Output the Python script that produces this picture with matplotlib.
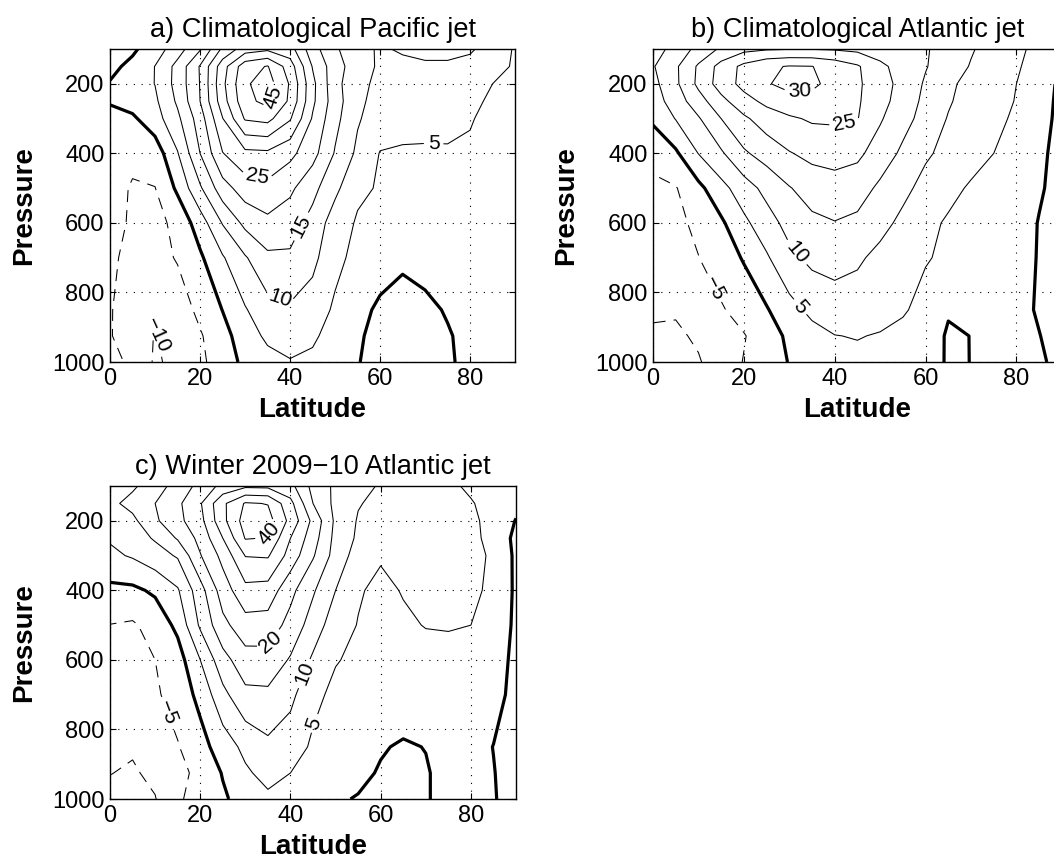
import numpy as np
import matplotlib
matplotlib.use("Agg")
import matplotlib.pyplot as plt

# grid of the wind fields
lat = [0, 5, 10, 15, 20, 25, 30, 35, 40, 45, 50, 55, 60, 65, 70, 75, 80, 85, 90]
plev = [100, 150, 200, 250, 300, 400, 500, 600, 700, 850, 925, 1000]

# zonal wind (m/s), one row per pressure level, one column per latitude
u_pacific = [
    [-2.0, -0.8, 2.6, 7.7, 14.5, 26.0, 32.5, 34.0, 32.0, 22.0, 15.8, 11.4, 9.5, 10.5, 11.5, 11.5, 10.6, 8.0, 4.5],
    [-1.2, 1.2, 5.1, 11.6, 20.4, 32.8, 43.0, 45.3, 37.5, 24.7, 17.2, 12.2, 9.3, 9.0, 9.2, 9.2, 8.6, 6.5, 4.5],
    [0.3, 2.5, 5.1, 11.8, 20.2, 33.8, 44.3, 47.3, 39.5, 26.3, 16.6, 11.4, 8.8, 8.0, 7.8, 7.8, 7.3, 5.0, 4.0],
    [0.4, 2.0, 4.1, 10.8, 20.0, 32.8, 43.5, 46.5, 39.0, 26.0, 17.3, 11.0, 8.3, 7.5, 7.0, 6.7, 6.0, 4.3, 3.3],
    [-1.5, -0.8, 2.9, 8.9, 17.5, 29.8, 40.5, 41.5, 35.5, 24.5, 16.5, 10.5, 7.5, 6.5, 6.0, 5.8, 5.2, 4.2, 3.0],
    [-2.5, -3.4, -2.8, 4.7, 15.0, 24.8, 28.7, 29.0, 26.3, 21.8, 14.6, 9.0, 4.8, 4.5, 4.6, 4.7, 4.6, 4.2, 3.5],
    [-2.5, -5.6, -5.1, 0.9, 9.3, 17.9, 22.5, 23.6, 21.0, 16.5, 11.2, 5.9, 4.6, 4.2, 4.1, 4.1, 4.3, 4.5, 4.5],
    [-3.5, -5.6, -6.6, -3.6, 2.5, 10.3, 16.3, 18.8, 17.3, 13.3, 7.5, 4.5, 3.5, 3.0, 3.2, 3.5, 3.5, 3.5, 3.5],
    [-4.2, -6.3, -6.8, -4.6, -0.8, 4.5, 9.5, 14.0, 14.2, 11.3, 6.4, 3.5, 1.8, 0.7, 1.3, 2.2, 2.8, 3.0, 3.0],
    [-4.6, -8.0, -9.6, -7.6, -3.8, 0.1, 4.6, 8.2, 9.3, 7.8, 4.2, 1.2, -0.7, -1.5, -0.8, 0.3, 1.5, 2.2, 2.5],
    [-4.7, -7.5, -10.2, -8.5, -5.5, -1.7, 2.5, 6.0, 7.6, 5.8, 3.0, 0.5, -1.2, -2.0, -1.2, -0.3, 1.0, 1.8, 2.2],
    [-3.5, -6.0, -10.6, -8.8, -6.0, -2.6, 1.2, 3.3, 4.6, 4.0, 2.3, 0.2, -1.5, -2.0, -1.5, -0.4, 0.8, 1.5, 2.0],
]

u_atlantic = [
    [2.5, 7.0, 11.4, 15.8, 18.6, 19.5, 19.8, 19.8, 19.5, 18.8, 17.8, 16.7, 15.4, 13.2, 10.4, 8.2, 6.0, 3.7, 1.0],
    [4.6, 9.2, 15.7, 21.8, 26.3, 29.2, 30.3, 30.1, 28.2, 25.6, 21.0, 18.2, 15.3, 12.3, 9.7, 7.6, 5.6, 2.8, -0.3],
    [3.5, 9.0, 16.1, 22.3, 26.5, 29.6, 31.5, 31.0, 28.3, 25.8, 22.1, 18.4, 14.4, 11.2, 8.1, 6.4, 5.0, 2.3, -1.0],
    [2.6, 7.4, 12.9, 18.5, 23.2, 26.2, 28.2, 28.3, 27.2, 25.6, 21.7, 17.8, 13.8, 10.5, 8.0, 6.5, 4.8, 2.0, -1.2],
    [0.8, 5.2, 9.5, 15.0, 19.1, 22.5, 24.3, 25.6, 25.8, 25.2, 20.5, 16.8, 13.1, 9.7, 7.9, 6.1, 4.3, 1.7, -1.3],
    [-3.5, -0.8, 5.1, 9.3, 14.3, 17.0, 19.7, 21.3, 21.6, 21.0, 17.8, 14.0, 10.7, 8.6, 6.9, 5.0, 3.5, 0.9, -1.5],
    [-6.0, -5.3, -1.3, 3.4, 7.7, 11.5, 14.7, 17.2, 18.3, 17.3, 14.0, 11.3, 8.4, 6.4, 4.4, 3.5, 2.5, 0.5, -1.6],
    [-7.0, -6.2, -3.9, -0.8, 3.9, 7.9, 11.7, 13.9, 14.8, 13.9, 11.6, 8.8, 6.3, 4.4, 3.8, 3.2, 2.1, -0.2, -1.5],
    [-7.5, -7.0, -5.1, -2.5, 0.4, 4.4, 8.8, 11.2, 12.0, 10.8, 8.6, 7.0, 5.4, 4.0, 3.3, 2.8, 1.9, -0.3, -1.5],
    [-9.2, -9.5, -8.3, -5.5, -3.0, -0.4, 3.3, 6.2, 7.4, 7.4, 6.6, 5.6, 3.2, 0.3, 0.6, 1.5, 1.2, -0.4, -1.5],
    [-10.8, -10.8, -9.3, -7.5, -5.3, -2.4, 1.0, 3.3, 4.9, 5.2, 4.7, 3.5, 1.8, -0.4, 0.04, 1.0, 1.0, 0.1, -1.5],
    [-11.6, -11.5, -10.4, -7.6, -4.8, -2.3, 0.2, 2.2, 3.5, 4.0, 3.6, 2.6, 1.5, -0.35, 0.03, 1.0, 1.0, 0.5, -1.0],
]

u_winter = [
    [7.0, 9.2, 12.7, 17.0, 21.5, 26.5, 29.0, 28.8, 26.5, 18.5, 14.0, 11.0, 9.7, 8.5, 7.2, 5.8, 4.3, 3.0, 2.0],
    [8.8, 11.6, 15.0, 19.0, 24.5, 34.0, 40.5, 39.8, 31.5, 20.0, 13.7, 10.3, 8.8, 7.8, 7.0, 6.3, 5.3, 3.5, 1.2],
    [7.2, 8.8, 14.2, 18.6, 23.4, 33.6, 42.2, 42.0, 33.5, 23.7, 14.0, 9.6, 8.3, 7.6, 7.2, 6.8, 6.0, 3.4, -0.2],
    [5.5, 7.8, 10.5, 15.5, 21.5, 30.0, 40.3, 39.8, 30.0, 22.2, 13.5, 9.2, 7.8, 7.3, 7.0, 6.7, 6.0, 3.8, -1.3],
    [4.0, 5.5, 8.0, 10.5, 19.7, 26.5, 35.2, 35.5, 28.0, 20.5, 13.0, 7.8, 5.5, 6.0, 6.5, 6.5, 5.8, 4.6, -1.0],
    [-1.2, -1.0, 0.8, 4.5, 13.0, 22.5, 28.5, 28.0, 21.4, 15.6, 10.0, 5.5, 3.8, 5.3, 6.3, 6.6, 6.1, 3.9, -0.8],
    [-5.1, -5.6, -3.2, 1.2, 10.8, 18.6, 23.0, 22.8, 18.3, 12.7, 7.3, 4.8, 3.9, 4.2, 5.2, 5.4, 5.0, 2.8, -0.8],
    [-6.3, -7.0, -5.0, -2.2, 5.0, 13.2, 18.0, 18.2, 14.5, 9.2, 5.3, 4.0, 3.6, 3.3, 3.2, 3.2, 2.9, 1.5, -0.8],
    [-7.0, -7.6, -5.7, -3.0, 1.4, 8.6, 13.8, 14.0, 11.2, 6.3, 3.8, 3.0, 2.6, 2.2, 2.2, 2.3, 2.1, 0.9, -0.8],
    [-9.0, -9.5, -7.8, -5.3, -1.8, 2.4, 6.3, 8.9, 7.5, 4.2, 2.2, 1.0, 0.3, -0.4, 0.1, 1.2, 1.0, -0.05, -1.2],
    [-9.9, -10.5, -9.0, -6.5, -3.6, 0.3, 4.2, 6.7, 5.0, 2.8, 1.6, 0.8, -0.3, -1.0, -0.3, 1.2, 1.0, 0.1, -1.2],
    [-11.0, -11.4, -10.2, -5.6, -3.3, -0.7, 2.0, 4.0, 3.2, 1.5, 0.39, -0.2, -0.6, -1.0, -0.3, 1.2, 1.0, 0.2, -1.2],
]

neg_levels = [-15, -10, -5]
pos_levels = [5, 10, 15, 20, 25, 30, 35, 40, 45, 50]

plt.rcParams['font.family'] = ['Liberation Sans', 'DejaVu Sans']
plt.rcParams['lines.dashed_pattern'] = [11.5, 7.7]


def fmt(v):
    return ('%d' % v).replace('-', '\u2212')


fig = plt.figure(figsize=(10.54, 8.65), dpi=100)


def panel(rect, u, title, pos_lab, neg_lab):
    ax = fig.add_axes(rect)
    ax.set_xlim(0, 90)
    ax.set_ylim(1000, 100)
    ax.set_xticks([0, 20, 40, 60, 80])
    ax.set_yticks([200, 400, 600, 800, 1000])
    ax.grid(True, color='k', linestyle=(0, (1, 6)), linewidth=0.8)
    ax.set_axisbelow(True)
    ax.tick_params(direction='in', length=4, width=0.8, labelsize=17, pad=4,
                   top=True, right=True)
    for s in ax.spines.values():
        s.set_linewidth(1.0)
    u = np.array(u)
    cn = ax.contour(lat, plev, u, levels=neg_levels, colors='k',
                    linewidths=0.75, linestyles='dashed')
    ax.contour(lat, plev, u, levels=[0], colors='k', linewidths=2.3)
    cp = ax.contour(lat, plev, u, levels=pos_levels, colors='k',
                    linewidths=0.75, linestyles='solid')
    # labels go on the contour nearest to each spot
    ax.clabel(cp, manual=pos_lab, inline=True, inline_spacing=4, fontsize=15, fmt=fmt)
    ax.clabel(cn, manual=neg_lab, inline=True, inline_spacing=4, fontsize=15, fmt=fmt)
    ax.set_title(title, fontsize=19.6, pad=9)
    ax.set_xlabel('Latitude', fontsize=20, fontweight='bold', labelpad=5)
    ax.set_ylabel('Pressure', fontsize=20, fontweight='bold', labelpad=11)
    return ax


panel([0.1044, 0.5815, 0.3843, 0.3618], u_pacific, 'a) Climatological Pacific jet',
      [(34.8, 236), (32.6, 477), (42.6, 611), (37.8, 817), (71.9, 371)],
      [(11.9, 918)])
panel([0.6195, 0.5815, 0.3880, 0.3618], u_atlantic, 'b) Climatological Atlantic jet',
      [(32.3, 218), (42.2, 314), (32.3, 678), (31.6, 850)],
      [(12.5, 793)])
panel([0.1044, 0.0763, 0.3852, 0.3618], u_winter, 'c) Winter 2009\u221210 Atlantic jet',
      [(34.8, 236), (34.8, 543), (43.0, 639), (45.2, 782)],
      [(12.2, 752)])

fig.savefig('out.png', dpi=100)
